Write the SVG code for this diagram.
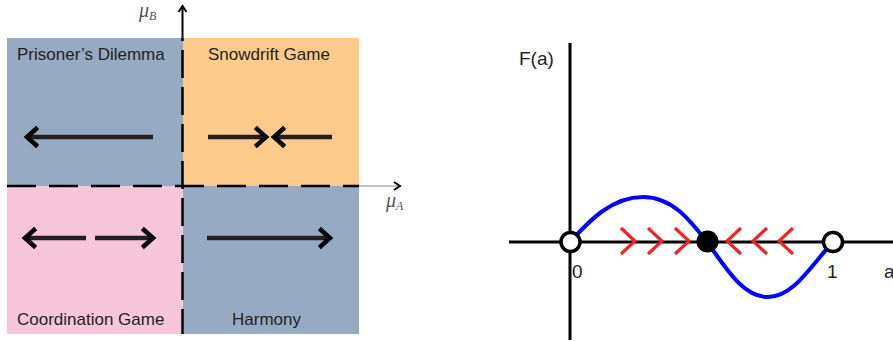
<svg xmlns="http://www.w3.org/2000/svg" width="893" height="341" viewBox="0 0 893 341">
<style>
.lbl{font-family:"Liberation Sans",Arial,sans-serif;font-size:17px;fill:#231F20}
.big{font-family:"Liberation Sans",Arial,sans-serif;font-size:19px;fill:#231F20}
.mu{font-family:"Liberation Serif","Times New Roman",serif;font-style:italic;fill:#555}
.arr{fill:none;stroke:#231F20;stroke-width:4.5;stroke-linecap:butt}
.head{fill:none;stroke:#000;stroke-width:4.5;stroke-linejoin:miter;stroke-linecap:square}
.dash{fill:none;stroke:#000;stroke-width:2.5}
.axis{fill:none;stroke:#000;stroke-width:3}
.chev{fill:none;stroke:#EE2528;stroke-width:3.2}
.open{fill:#fff;stroke:#000;stroke-width:3.5}
</style>
<g id="quadrants">
<rect id="pd" x="7" y="38" width="176" height="148" fill="#97AAC4"/>
<rect id="sd" x="183" y="38" width="176" height="148" fill="#FCCB8C"/>
<rect id="cg" x="7" y="186" width="176" height="148" fill="#F7C6DA"/>
<rect id="hm" x="183" y="186" width="176" height="148" fill="#97AAC4"/>
</g>
<g id="labels">
<text class="lbl" x="17" y="60">Prisoner’s Dilemma</text>
<text class="lbl" x="208" y="60">Snowdrift Game</text>
<text class="lbl" x="17" y="325">Coordination Game</text>
<text class="lbl" x="232" y="325">Harmony</text>
<text class="mu" x="139" y="17" font-size="20">μ<tspan font-size="12" dy="3">B</tspan></text>
<text class="mu" x="386" y="207" font-size="20">μ<tspan font-size="12" dy="3">A</tspan></text>
</g>
<g id="axes-left">
<path class="dash" d="M7,186 H359" stroke-dasharray="29 13"/>
<path class="dash" d="M182.5,38 V334" stroke-dasharray="28 9" stroke-dashoffset="-12"/>
<path d="M182.5,38 V7" stroke="#000" stroke-width="2" fill="none"/>
<path d="M178.5,12 L182.5,6 L186.5,12" stroke="#000" stroke-width="2" fill="none"/>
<path d="M359,186 H399" stroke="#888" stroke-width="1" fill="none"/>
<path d="M394,182 L400,186 L394,190" stroke="#000" stroke-width="2" fill="none"/>
</g>
<g id="flow-arrows">
<path class="arr" d="M153,137 H29"/>
<path class="head" d="M36,129 L27,137 L36,145"/>
<path class="arr" d="M208,137 H263"/>
<path class="head" d="M257,129 L266,137 L257,145"/>
<path class="arr" d="M332,137 H277"/>
<path class="head" d="M283,129 L274,137 L283,145"/>
<path class="arr" d="M86,238 H27"/>
<path class="head" d="M34,230 L25,238 L34,246"/>
<path class="arr" d="M95,238 H151"/>
<path class="head" d="M144,230 L153,238 L144,246"/>
<path class="arr" d="M207,238 H327"/>
<path class="head" d="M321,230 L330,238 L321,246"/>
</g>
<g id="axes-right">
<path class="axis" d="M570,43 V340"/>
<path class="axis" d="M509,242 H893"/>
<text class="big" x="519" y="65">F(a)</text>
<text class="big" x="572" y="278">0</text>
<text class="big" x="827" y="278">1</text>
<text class="big" x="884" y="278">a</text>
</g>
<g id="curve">
<path d="M570,242 C590,220 612,197 643,197 C672,197 690,220 707,242 C725,266 742,297 768,297 C794,297 812,264 833,242" fill="none" stroke="#0000FF" stroke-width="4"/>
</g>
<g id="chevrons">
<path class="chev" d="M621,228 L635,241 L621,254"/>
<path class="chev" d="M648,228 L662,241 L648,254"/>
<path class="chev" d="M675,228 L689,241 L675,254"/>
<path class="chev" d="M741,228 L727,241 L741,254"/>
<path class="chev" d="M767,228 L753,241 L767,254"/>
<path class="chev" d="M793,228 L779,241 L793,254"/>
</g>
<g id="points">
<circle id="p0" class="open" cx="570.5" cy="242" r="9.5"/>
<circle id="p1" class="open" cx="833" cy="242" r="9.5"/>
<circle id="pm" cx="707.5" cy="241.5" r="11" fill="#000"/>
</g>
</svg>
